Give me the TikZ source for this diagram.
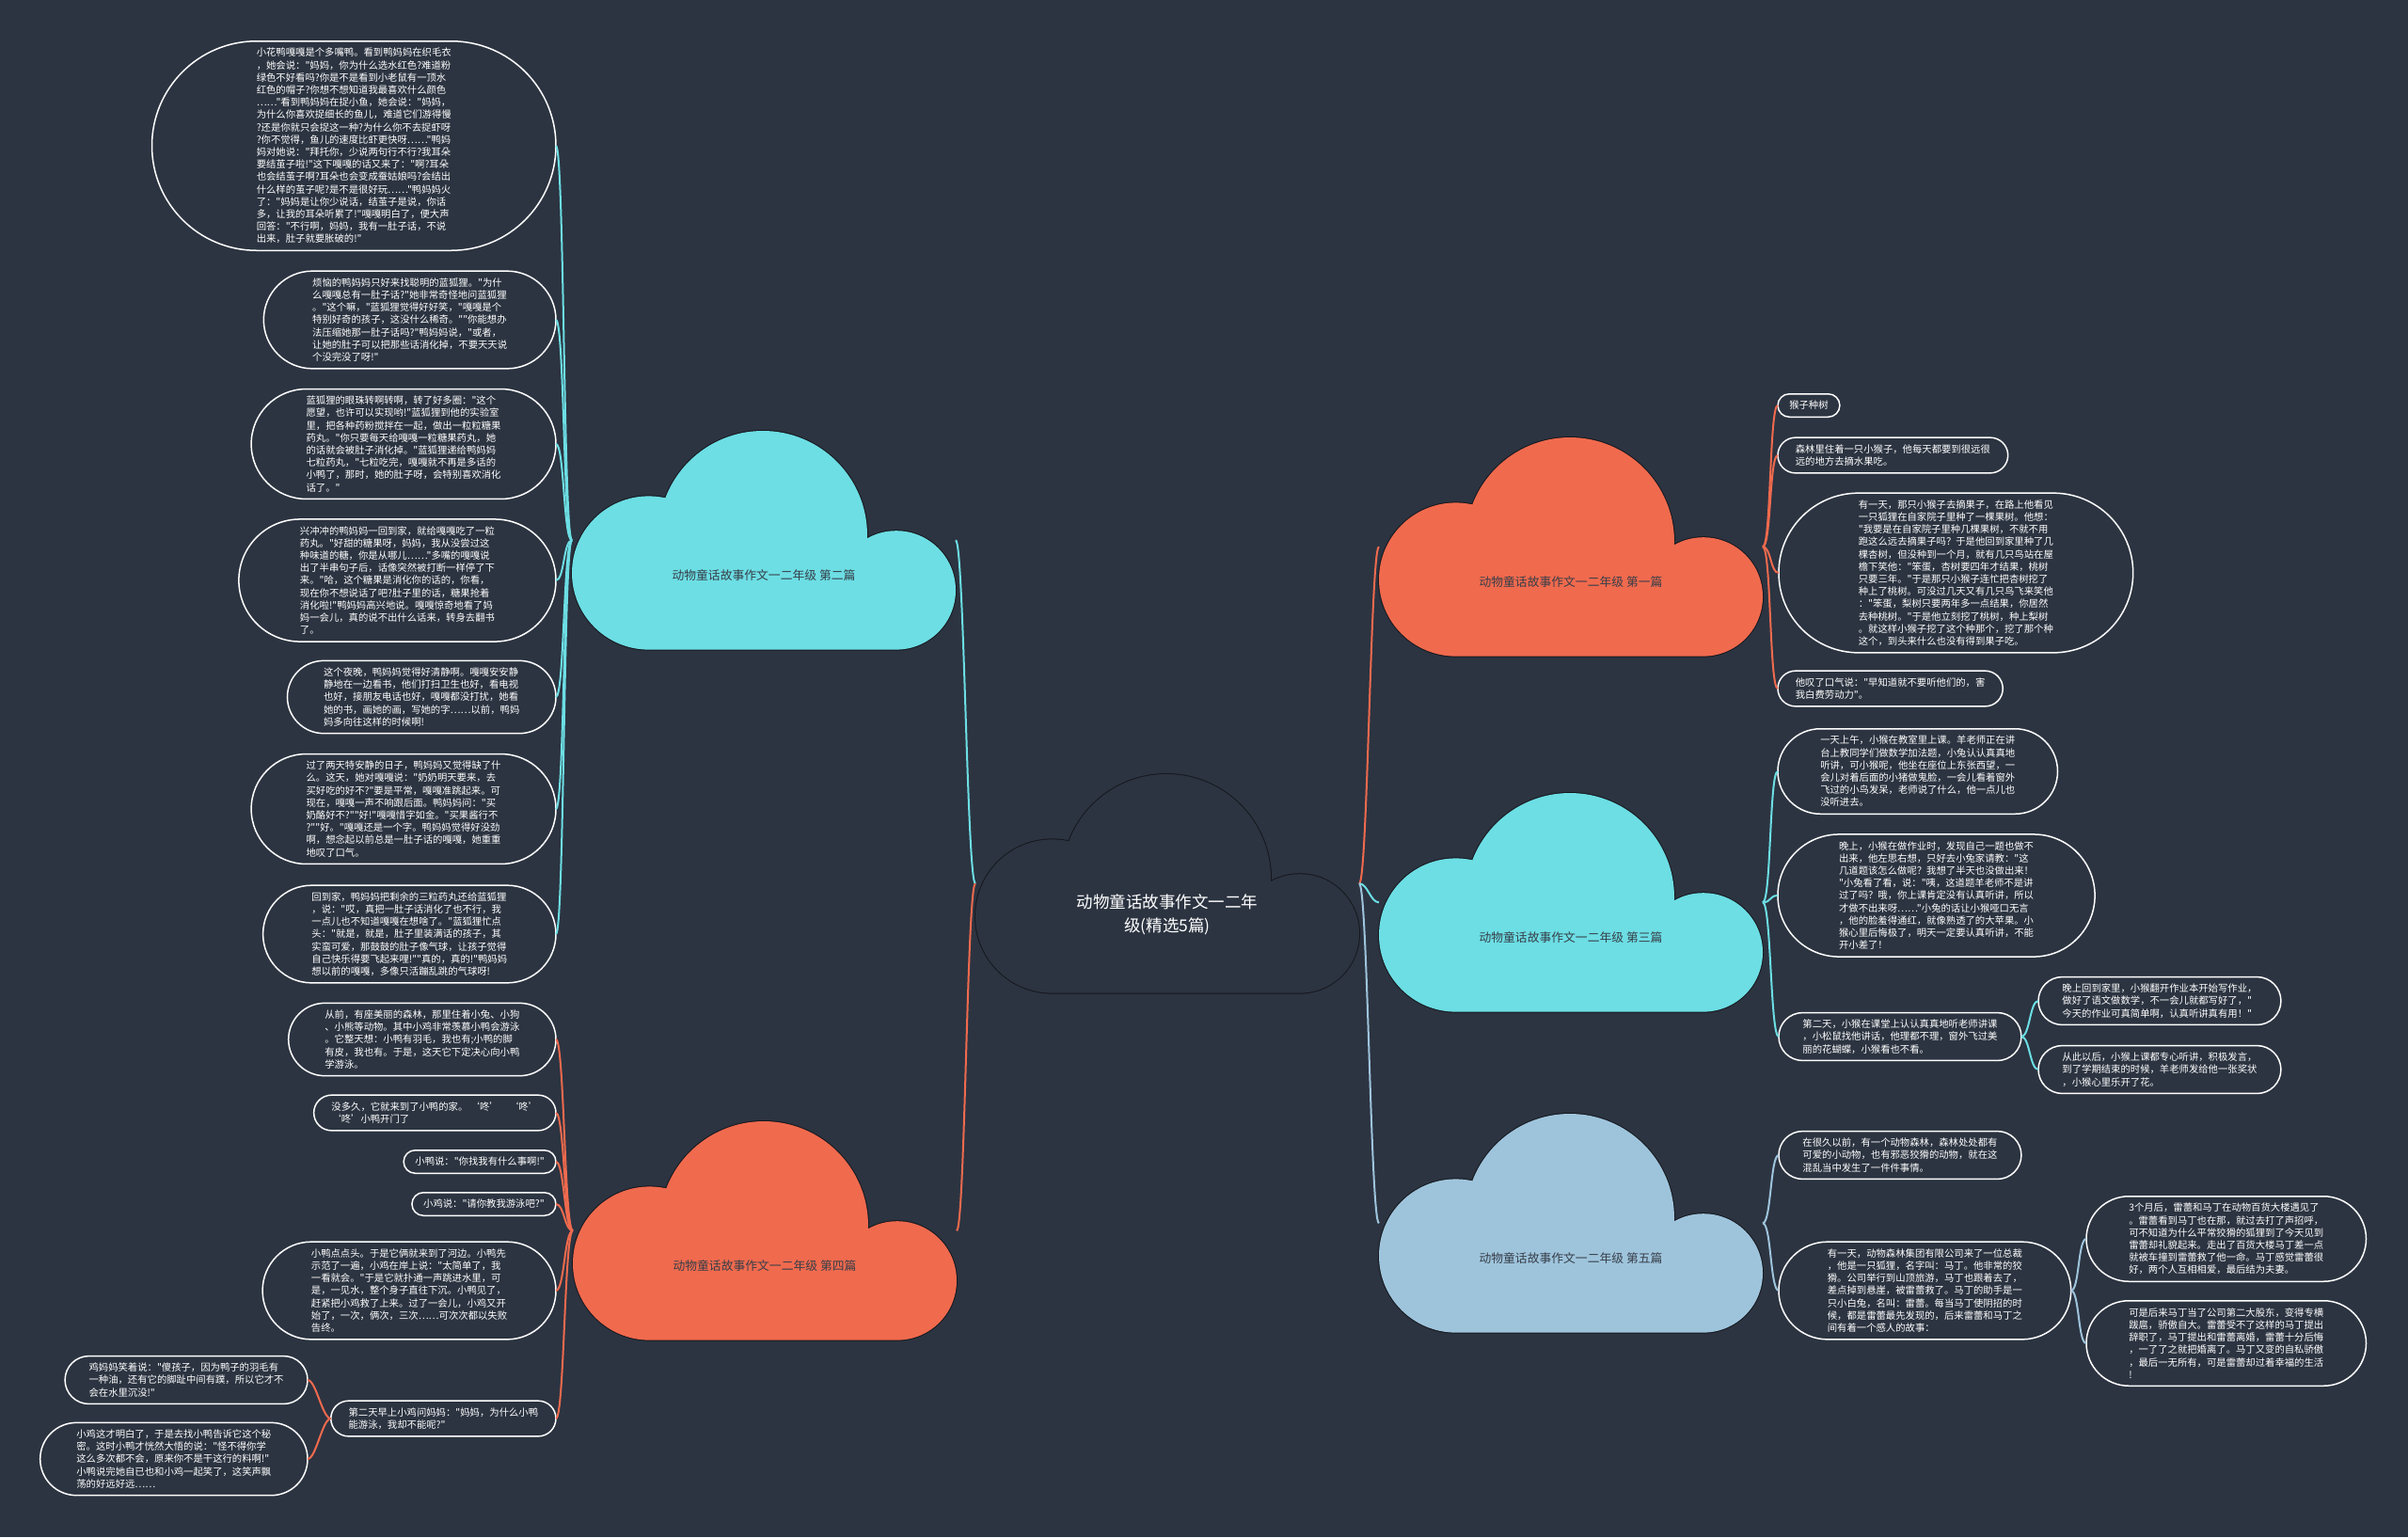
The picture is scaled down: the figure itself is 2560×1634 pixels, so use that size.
\documentclass[tikz,border=0pt]{standalone}
\usepackage{fontspec}
\newfontfamily\cjk{Noto Sans CJK SC}
\definecolor{bg}{RGB}{44,52,65}
\definecolor{cyanc}{RGB}{108,222,228}
\definecolor{orangec}{RGB}{240,106,78}
\definecolor{bluec}{RGB}{158,196,220}
\definecolor{labelc}{RGB}{55,62,72}
\definecolor{cloudline}{RGB}{22,24,30}
\newcommand{\drawcloud}[4]{%
  \begin{scope}[shift={(#1,#2)}]
    \path[draw=cloudline, line width=2pt, fill=cloudline] (81.6,151) circle[radius=81.6pt] (203,111) circle[radius=111pt] (344.8,169.4) circle[radius=63.2pt] (81.6,116) rectangle (344.8,232.6);
    \path[fill=#3] (81.6,151) circle[radius=81.6pt] (203,111) circle[radius=111pt] (344.8,169.4) circle[radius=63.2pt] (81.6,116) rectangle (344.8,232.6);
  \end{scope}
  \node[inner sep=0pt, outer sep=0pt, minimum width=408pt, minimum height=232.6pt, anchor=north west] (#4) at (#1,#2) {};
}
\tikzset{
  bub/.style={rectangle, draw=white, line width=1.5pt, fill=bg, text=white,
    inner ysep=0pt, inner xsep={(13.2*(#1-1)+24.5)/2},
    minimum height={13.2*(#1-1)+24.5},
    rounded corners={(13.2*(#1-1)+24.5)/2},
    outer sep=0pt, align=left,
    font=\cjk\fontsize{10.35pt}{13.2pt}\selectfont},
  cloudlabel/.style={text=labelc, inner sep=0pt, font=\cjk\fontsize{12.8pt}{15pt}\selectfont},
  conn/.style={line width=2pt, draw=#1}
}
\newcommand{\lconn}[3]{\draw[conn=#1] (#2) .. controls +(-9,0) and +(9,0) .. (#3);}
\newcommand{\rconn}[3]{\draw[conn=#1] (#2) .. controls +(9,0) and +(-9,0) .. (#3);}
\begin{document}
\begin{tikzpicture}[x=1pt,y=-1pt]
\useasboundingbox (0,0) rectangle (2560,1634);
\fill[bg] (0,0) rectangle (2560,1634);

% clouds
\drawcloud{1037}{823}{bg}{c0}
\drawcloud{608}{458}{cyanc}{c2}
\drawcloud{609}{1192}{orangec}{c4}
\drawcloud{1466}{465}{orangec}{c1}
\drawcloud{1466}{843}{cyanc}{c3}
\drawcloud{1466}{1184}{bluec}{c5}

\node[text=white, align=center, inner sep=0pt, font=\cjk\fontsize{17.5pt}{25pt}\selectfont] (t0) at (1241,972) {动物童话故事作文一二年\\级(精选5篇)};
\node[cloudlabel] (t2) at (812,612) {动物童话故事作文一二年级 第二篇};
\node[cloudlabel] (t4) at (813,1346) {动物童话故事作文一二年级 第四篇};
\node[cloudlabel] (t1) at (1670,619) {动物童话故事作文一二年级 第一篇};
\node[cloudlabel] (t3) at (1670,997) {动物童话故事作文一二年级 第三篇};
\node[cloudlabel] (t5) at (1670,1338) {动物童话故事作文一二年级 第五篇};

% section 2 (left top)
\node[bub=16, anchor=east] (b1) at (591,155) {小花鸭嘎嘎是个多嘴鸭。看到鸭妈妈在织毛衣\\，她会说："妈妈，你为什么选水红色?难道粉\\绿色不好看吗?你是不是看到小老鼠有一顶水\\红色的帽子?你想不想知道我最喜欢什么颜色\\……"看到鸭妈妈在捉小鱼，她会说："妈妈，\\为什么你喜欢捉细长的鱼儿，难道它们游得慢\\?还是你就只会捉这一种?为什么你不去捉虾呀\\?你不觉得，鱼儿的速度比虾更快呀……"鸭妈\\妈对她说："拜托你，少说两句行不行?我耳朵\\要结茧子啦!"这下嘎嘎的话又来了："啊?耳朵\\也会结茧子啊?耳朵也会变成蚕姑娘吗?会结出\\什么样的茧子呢?是不是很好玩……"鸭妈妈火\\了："妈妈是让你少说话，结茧子是说，你话\\多，让我的耳朵听累了!"嘎嘎明白了，便大声\\回答："不行啊，妈妈，我有一肚子话，不说\\出来，肚子就要胀破的!"};
\node[bub=7, anchor=east] (b2) at (591,340) {烦恼的鸭妈妈只好来找聪明的蓝狐狸。"为什\\么嘎嘎总有一肚子话?"她非常奇怪地问蓝狐狸\\。"这个嘛，"蓝狐狸觉得好好笑，"嘎嘎是个\\特别好奇的孩子，这没什么稀奇。""你能想办\\法压缩她那一肚子话吗?"鸭妈妈说，"或者，\\让她的肚子可以把那些话消化掉，不要天天说\\个没完没了呀!"};
\node[bub=8, anchor=east] (b3) at (591,472) {蓝狐狸的眼珠转啊转啊，转了好多圈："这个\\愿望，也许可以实现哟!"蓝狐狸到他的实验室\\里，把各种药粉搅拌在一起，做出一粒粒糖果\\药丸。"你只要每天给嘎嘎一粒糖果药丸，她\\的话就会被肚子消化掉。"蓝狐狸递给鸭妈妈\\七粒药丸，"七粒吃完，嘎嘎就不再是多话的\\小鸭了，那时，她的肚子呀，会特别喜欢消化\\话了。"};
\node[bub=9, anchor=east] (b4) at (591,617) {兴冲冲的鸭妈妈一回到家，就给嘎嘎吃了一粒\\药丸。"好甜的糖果呀，妈妈，我从没尝过这\\种味道的糖，你是从哪儿……"多嘴的嘎嘎说\\出了半串句子后，话像突然被打断一样停了下\\来。"哈，这个糖果是消化你的话的，你看，\\现在你不想说话了吧?肚子里的话，糖果抢着\\消化啦!"鸭妈妈高兴地说。嘎嘎惊奇地看了妈\\妈一会儿，真的说不出什么话来，转身去翻书\\了。};
\node[bub=5, anchor=east] (b5) at (591,741) {这个夜晚，鸭妈妈觉得好清静啊。嘎嘎安安静\\静地在一边看书，他们打扫卫生也好，看电视\\也好，接朋友电话也好，嘎嘎都没打扰，她看\\她的书，画她的画，写她的字……以前，鸭妈\\妈多向往这样的时候啊!};
\node[bub=8, anchor=east] (b6) at (591,860) {过了两天特安静的日子，鸭妈妈又觉得缺了什\\么。这天，她对嘎嘎说："奶奶明天要来，去\\买好吃的好不?"要是平常，嘎嘎准跳起来。可\\现在，嘎嘎一声不响跟后面。鸭妈妈问："买\\奶酪好不?""好!"嘎嘎惜字如金。"买果酱行不\\?""好。"嘎嘎还是一个字。鸭妈妈觉得好没劲\\啊，想念起以前总是一肚子话的嘎嘎，她重重\\地叹了口气。};
\node[bub=7, anchor=east] (b7) at (591,993) {回到家，鸭妈妈把剩余的三粒药丸还给蓝狐狸\\，说："哎，真把一肚子话消化了也不行，我\\一点儿也不知道嘎嘎在想啥了。"蓝狐狸忙点\\头："就是，就是，肚子里装满话的孩子，其\\实蛮可爱，那鼓鼓的肚子像气球，让孩子觉得\\自己快乐得要飞起来哩!""真的，真的!"鸭妈妈\\想以前的嘎嘎，多像只活蹦乱跳的气球呀!};

% section 4 (left bottom)
\node[bub=5, anchor=east] (d1) at (591,1105) {从前，有座美丽的森林，那里住着小兔、小狗\\、小熊等动物。其中小鸡非常羡慕小鸭会游泳\\。它整天想：小鸭有羽毛，我也有;小鸭的脚\\有皮，我也有。于是，这天它下定决心向小鸭\\学游泳。};
\node[bub=2, anchor=east] (d2) at (591,1183) {没多久，它就来到了小鸭的家。 ‘咚’　‘咚’\\ ‘咚’小鸭开门了};
\node[bub=1, anchor=east] (d3) at (591,1235) {小鸭说："你找我有什么事啊!"};
\node[bub=1, anchor=east] (d4) at (591,1280) {小鸡说："请你教我游泳吧?"};
\node[bub=7, anchor=east] (d5) at (591,1372) {小鸭点点头。于是它俩就来到了河边。小鸭先\\示范了一遍，小鸡在岸上说："太简单了，我\\一看就会。"于是它就扑通一声跳进水里，可\\是，一见水，整个身子直往下沉。小鸭见了，\\赶紧把小鸡救了上来。过了一会儿，小鸡又开\\始了，一次，俩次，三次……可次次都以失败\\告终。};
\node[bub=2, anchor=east] (d6) at (591,1508) {第二天早上小鸡问妈妈："妈妈，为什么小鸭\\能游泳，我却不能呢?"};
\node[bub=3, anchor=east] (e1) at (327,1467) {鸡妈妈笑着说："傻孩子，因为鸭子的羽毛有\\一种油，还有它的脚趾中间有蹼，所以它才不\\会在水里沉没!"};
\node[bub=5, anchor=east] (e2) at (327,1551) {小鸡这才明白了，于是去找小鸭告诉它这个秘\\密。这时小鸭才恍然大悟的说："怪不得你学\\这么多次都不会，原来你不是干这行的料啊!"\\小鸭说完她自已也和小鸡一起笑了，这笑声飘\\荡的好远好远……};

% section 1 (right top)
\node[bub=1, anchor=west] (r1) at (1890,431) {猴子种树};
\node[bub=2, anchor=west] (r2) at (1890,484) {森林里住着一只小猴子，他每天都要到很远很\\远的地方去摘水果吃。};
\node[bub=12, anchor=west] (r3) at (1891,609) {有一天，那只小猴子去摘果子，在路上他看见\\一只狐狸在自家院子里种了一棵果树。他想：\\"我要是在自家院子里种几棵果树，不就不用\\跑这么远去摘果子吗？于是他回到家里种了几\\棵杏树，但没种到一个月，就有几只鸟站在屋\\檐下笑他："笨蛋，杏树要四年才结果，桃树\\只要三年。"于是那只小猴子连忙把杏树挖了\\种上了桃树。可没过几天又有几只鸟飞来笑他\\："笨蛋，梨树只要两年多一点结果，你居然\\去种桃树。"于是他立刻挖了桃树，种上梨树\\。就这样小猴子挖了这个种那个，挖了那个种\\这个，到头来什么也没有得到果子吃。};
\node[bub=2, anchor=west] (r4) at (1890,732) {他叹了口气说："早知道就不要听他们的，害\\我白费劳动力"。};

% section 3 (right middle)
\node[bub=6, anchor=west] (s1) at (1890,820) {一天上午，小猴在教室里上课。羊老师正在讲\\台上教同学们做数学加法题，小兔认认真真地\\听讲，可小猴呢，他坐在座位上东张西望，一\\会儿对着后面的小猪做鬼脸，一会儿看着窗外\\飞过的小鸟发呆，老师说了什么，他一点儿也\\没听进去。};
\node[bub=9, anchor=west] (s2) at (1890,952) {晚上，小猴在做作业时，发现自己一题也做不\\出来，他左思右想，只好去小兔家请教："这\\几道题该怎么做呢？我想了半天也没做出来！\\"小兔看了看，说："咦，这道题羊老师不是讲\\过了吗？哦，你上课肯定没有认真听讲，所以\\才做不出来呀……"小兔的话让小猴哑口无言\\，他的脸羞得通红，就像熟透了的大苹果。小\\猴心里后悔极了，明天一定要认真听讲，不能\\开小差了！};
\node[bub=3, anchor=west] (s3) at (1891,1102) {第二天，小猴在课堂上认认真真地听老师讲课\\，小松鼠找他讲话，他理都不理，窗外飞过美\\丽的花蝴蝶，小猴看也不看。};
\node[bub=3, anchor=west] (s4) at (2167,1064) {晚上回到家里，小猴翻开作业本开始写作业，\\做好了语文做数学，不一会儿就都写好了，"\\今天的作业可真简单啊，认真听讲真有用！"};
\node[bub=3, anchor=west] (s5) at (2167,1137) {从此以后，小猴上课都专心听讲，积极发言，\\到了学期结束的时候，羊老师发给他一张奖状\\，小猴心里乐开了花。};

% section 5 (right bottom)
\node[bub=3, anchor=west] (u1) at (1891,1228) {在很久以前，有一个动物森林，森林处处都有\\可爱的小动物，也有邪恶狡猾的动物，就在这\\混乱当中发生了一件件事情。};
\node[bub=7, anchor=west] (u2) at (1891,1372) {有一天，动物森林集团有限公司来了一位总裁\\，他是一只狐狸，名字叫：马丁。他非常的狡\\猾。公司举行到山顶旅游，马丁也跟着去了，\\差点掉到悬崖，被雷蕾救了。马丁的助手是一\\只小白兔，名叫：雷蕾。每当马丁使阴招的时\\候，都是雷蕾最先发现的，后来雷蕾和马丁之\\间有着一个感人的故事：};
\node[bub=6, anchor=west] (u3) at (2218,1317) {3个月后，雷蕾和马丁在动物百货大楼遇见了\\。雷蕾看到马丁也在那，就过去打了声招呼，\\可不知道为什么平常狡猾的狐狸到了今天见到\\雷蕾却礼貌起来。走出了百货大楼马丁差一点\\就被车撞到雷蕾救了他一命。马丁感觉雷蕾很\\好，两个人互相相爱，最后结为夫妻。};
\node[bub=6, anchor=west] (u4) at (2218,1428) {可是后来马丁当了公司第二大股东，变得专横\\跋扈，骄傲自大。雷蕾受不了这样的马丁提出\\辞职了，马丁提出和雷蕾离婚，雷蕾十分后悔\\，一了了之就把婚离了。马丁又变的自私骄傲\\，最后一无所有，可是雷蕾却过着幸福的生活\\!};

% connectors: centre to clouds
\lconn{cyanc}{c0.west}{c2.east}
\lconn{orangec}{c0.west}{c4.east}
\rconn{orangec}{c0.east}{c1.west}
\rconn{cyanc}{c0.east}{c3.west}
\rconn{bluec}{c0.east}{c5.west}

% section 2
\foreach \n in {b1,b2,b3,b4,b5,b6,b7} {\lconn{cyanc}{c2.west}{\n.east}}
% section 4
\foreach \n in {d1,d2,d3,d4,d5,d6} {\lconn{orangec}{c4.west}{\n.east}}
\lconn{orangec}{d6.west}{e1.east}
\lconn{orangec}{d6.west}{e2.east}
% section 1
\foreach \n in {r1,r2,r3,r4} {\rconn{orangec}{c1.east}{\n.west}}
% section 3
\foreach \n in {s1,s2,s3} {\rconn{cyanc}{c3.east}{\n.west}}
\rconn{cyanc}{s3.east}{s4.west}
\rconn{cyanc}{s3.east}{s5.west}
% section 5
\rconn{bluec}{c5.east}{u1.west}
\rconn{bluec}{c5.east}{u2.west}
\rconn{bluec}{u2.east}{u3.west}
\rconn{bluec}{u2.east}{u4.west}
\end{tikzpicture}
\end{document}
